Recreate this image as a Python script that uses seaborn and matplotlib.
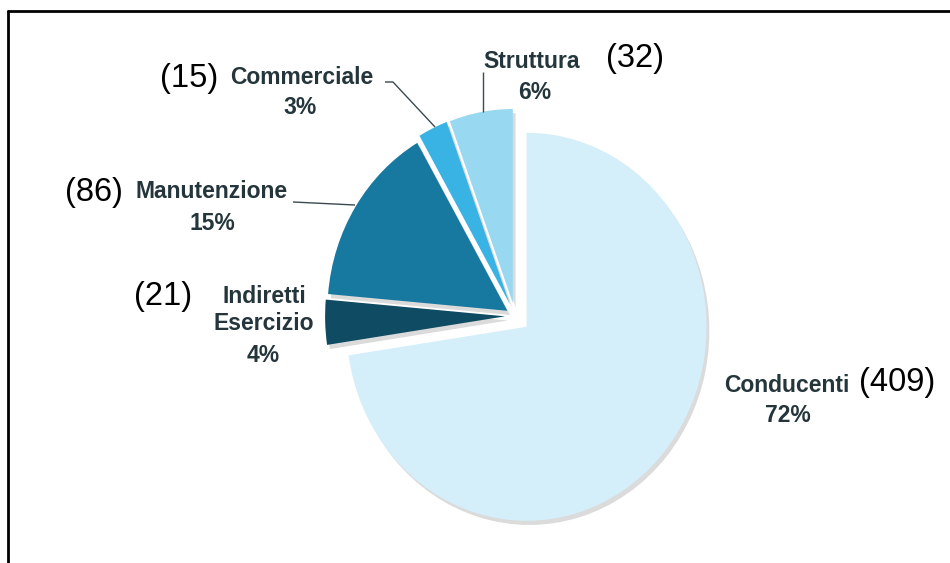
import matplotlib
matplotlib.use("Agg")
import matplotlib.pyplot as plt
import matplotlib.patheffects as pe
from matplotlib.lines import Line2D
import seaborn as sns

# ---- data ----
categories = ["Conducenti", "Indiretti\nEsercizio", "Manutenzione", "Commerciale", "Struttura"]
counts = [409, 21, 86, 15, 32]
percent_labels = ["72%", "4%", "15%", "3%", "6%"]
count_labels = ["(409)", "(21)", "(86)", "(15)", "(32)"]

# ---- style ----
sns.set_theme(style="white")
plt.rcParams["font.family"] = ["Liberation Sans", "DejaVu Sans"]
colors = sns.color_palette(["#D4EFFA", "#0F4B63", "#17799F", "#38B3E4", "#98D8F1"])
explode = [0.085, 0.055, 0.05, 0.07, 0.068]

W, H = 950, 563
fig = plt.figure(figsize=(W / 100, H / 100), dpi=100)
ax = fig.add_axes([0, 0, 1, 1])

# pie geometry in pixels (ellipse, slightly taller than wide)
CX, CY, RX, RY = 515, 316, 180, 194

def P(x, y):
    """image pixel -> data coords"""
    return (x - CX) / RX, (CY - y) / RY

wedges, _ = ax.pie(counts, explode=explode, colors=colors, startangle=90,
                   counterclock=False, radius=1, center=(0, 0),
                   wedgeprops=dict(linewidth=0))
for w in wedges:
    w.set_path_effects([pe.SimplePatchShadow(offset=(2, -3), shadow_rgbFace="#888888", alpha=0.3),
                        pe.Normal()])

ax.set_aspect("auto")
ax.set_xlim(-CX / RX, (W - CX) / RX)
ax.set_ylim(-(H - CY) / RY, CY / RY)
ax.axis("off")

txt_col = "#24353b"
cat_kw = dict(fontsize=16.5, fontweight="bold", color=txt_col, ha="center", va="center",
              linespacing=1.25)
cnt_kw = dict(fontsize=23.5, color="black", ha="center", va="center")

# category + percentage labels
ax.text(*P(787, 385), categories[0], **cat_kw)
ax.text(*P(788, 416), percent_labels[0], **cat_kw)
ax.text(*P(264, 310), categories[1], **cat_kw)
ax.text(*P(263, 356), percent_labels[1], **cat_kw)
ax.text(*P(212, 191), categories[2], **cat_kw)
ax.text(*P(212, 223), percent_labels[2], **cat_kw)
ax.text(*P(302, 77), categories[3], **cat_kw)
ax.text(*P(300, 108), percent_labels[3], **cat_kw)
ax.text(*P(532, 62), categories[4], **cat_kw)
ax.text(*P(535, 92), percent_labels[4], **cat_kw)

# counts
ax.text(*P(897, 383), count_labels[0], **cnt_kw)
ax.text(*P(163, 297), count_labels[1], **cnt_kw)
ax.text(*P(94, 192), count_labels[2], **cnt_kw)
ax.text(*P(189, 78), count_labels[3], **cnt_kw)
ax.text(*P(635, 58), count_labels[4], **cnt_kw)

# leader lines
def leader(pts):
    xs, ys = zip(*[P(x, y) for x, y in pts])
    ax.plot(xs, ys, color="#3a4a50", lw=1.0, solid_capstyle="butt")

leader([(385, 82), (393, 82), (435, 127)])
leader([(483, 72), (483, 112)])
leader([(293, 202), (355, 205)])

# outer frame (top and left edges visible)
fig.add_artist(Line2D([8 / W, 8 / W], [0, 1 - 11 / H], transform=fig.transFigure,
                      color="black", lw=2))
fig.add_artist(Line2D([8 / W, 1], [1 - 11 / H, 1 - 11 / H], transform=fig.transFigure,
                      color="black", lw=2))

fig.savefig("out.png", dpi=100, facecolor="white")
